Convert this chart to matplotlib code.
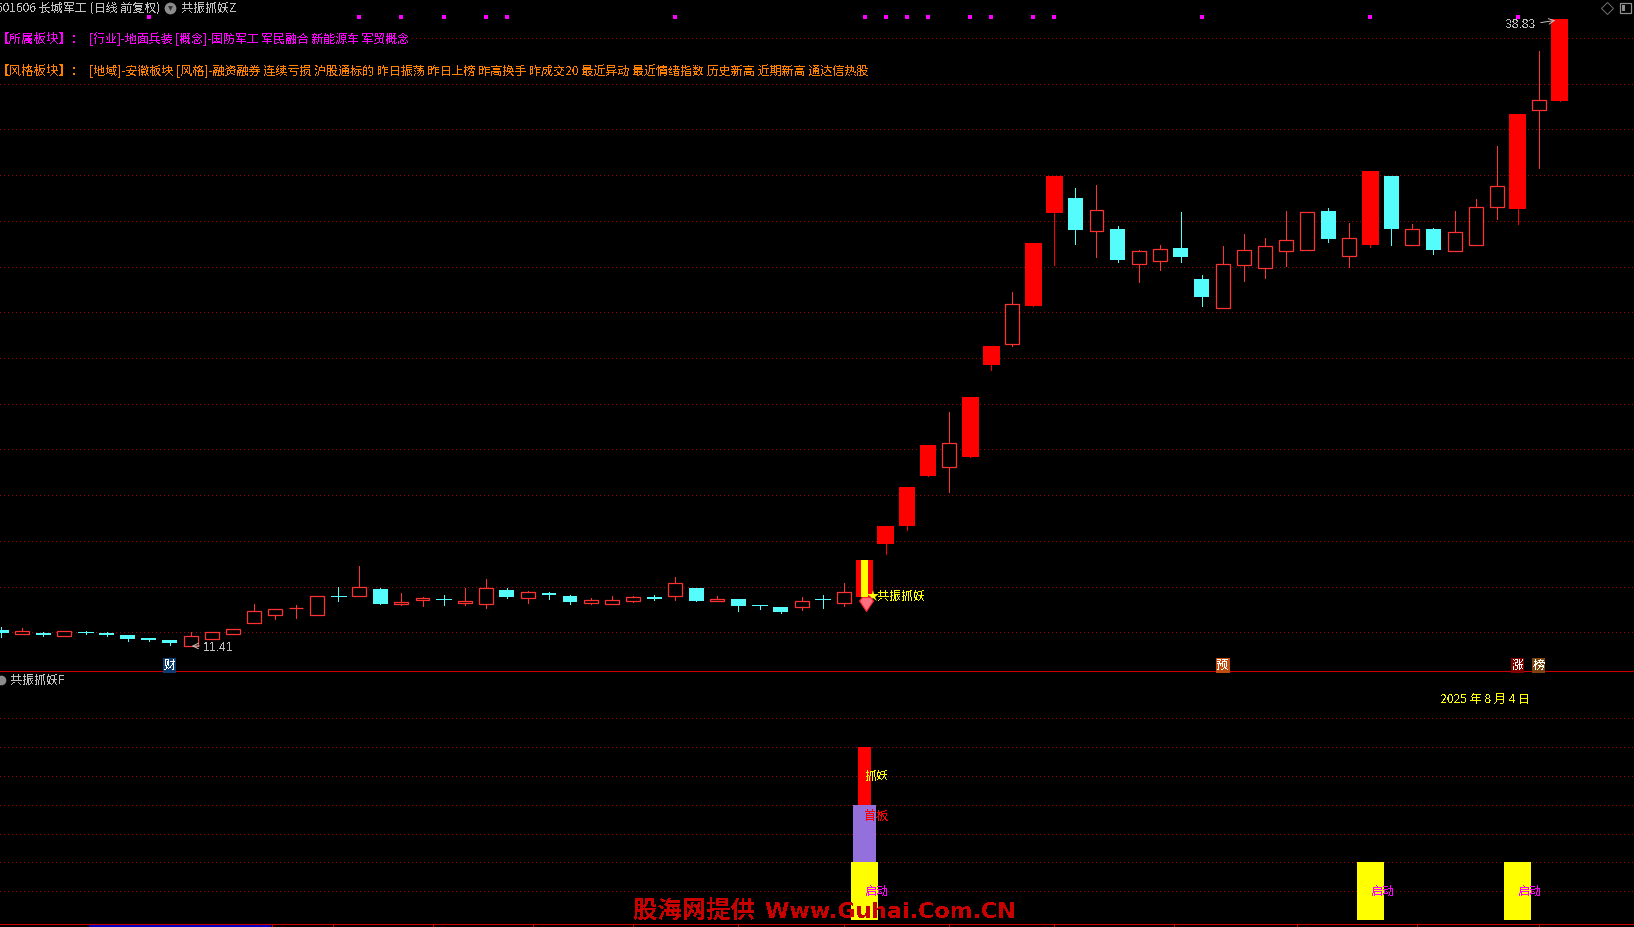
#!/usr/bin/python3
import matplotlib
matplotlib.use("Agg")
import matplotlib.pyplot as plt
from matplotlib.lines import Line2D
from matplotlib.patches import Rectangle

plt.rcParams['font.family'] = ['Noto Sans CJK SC', 'DejaVu Sans']
plt.rcParams['text.antialiased'] = False

W, H = 1634, 927

# daily candles, 75 days
opens = [12.11, 11.95, 11.98, 11.86, 12.02, 11.98, 11.89, 11.76, 11.67, 11.42,
         11.73, 11.95, 12.43, 12.74, 13.05, 12.78, 13.59, 13.57, 13.90, 13.26,
         13.43, 13.46, 13.30, 13.22, 13.86, 13.51, 13.73, 13.60, 13.30, 13.26,
         13.38, 13.55, 13.61, 13.95, 13.38, 13.47, 13.20, 13.12, 13.13, 13.46,
         13.30, 13.55, 15.87, 16.66, 18.84, 19.25, 19.67, 23.70, 24.63, 26.28,
         30.35, 31.00, 29.57, 29.65, 28.13, 28.26, 28.81, 27.46, 26.20, 28.08,
         27.95, 28.70, 28.74, 30.43, 28.48, 28.95, 31.96, 28.96, 29.65, 28.70,
         28.96, 30.62, 30.52, 34.86, 35.24]
closes = [11.98, 12.05, 11.89, 12.05, 11.98, 11.89, 11.72, 11.67, 11.54, 11.83,
          12.01, 12.14, 12.93, 13.01, 13.07, 13.58, 13.58, 13.98, 13.26, 13.33,
          13.51, 13.45, 13.38, 13.93, 13.55, 13.76, 13.64, 13.33, 13.41, 13.41,
          13.54, 13.47, 14.15, 13.38, 13.47, 13.16, 13.16, 12.90, 13.36, 13.45,
          13.76, 15.17, 16.66, 18.36, 20.20, 20.27, 22.30, 24.53, 26.37, 29.03,
          31.96, 29.60, 30.46, 28.29, 28.67, 28.76, 28.42, 26.67, 28.10, 28.71,
          28.89, 29.15, 30.38, 29.21, 29.24, 32.18, 29.65, 29.63, 28.73, 29.50,
          30.59, 31.51, 34.67, 35.27, 38.83]
highs = [12.24, 12.20, 12.02, 12.05, 12.07, 12.02, 11.89, 11.76, 11.67, 12.01,
         12.01, 12.14, 13.25, 13.01, 13.19, 13.58, 13.99, 14.91, 13.95, 13.73,
         13.55, 13.64, 13.95, 14.34, 13.95, 13.80, 13.77, 13.64, 13.51, 13.60,
         13.60, 13.64, 14.43, 13.95, 13.60, 13.47, 13.20, 13.12, 13.55, 13.64,
         14.16, 15.17, 16.66, 18.36, 20.20, 21.64, 22.30, 24.53, 26.89, 29.03,
         31.96, 31.44, 31.57, 29.78, 28.73, 28.95, 30.39, 27.63, 28.90, 29.43,
         29.25, 30.43, 30.38, 30.56, 29.91, 32.18, 31.96, 29.86, 29.69, 30.43,
         30.96, 33.28, 34.67, 37.43, 38.83]
lows = [11.80, 11.95, 11.85, 11.86, 11.95, 11.85, 11.63, 11.64, 11.45, 11.41,
        11.73, 11.95, 12.39, 12.59, 12.63, 12.78, 13.38, 13.57, 13.26, 13.20,
        13.16, 13.20, 13.20, 13.07, 13.51, 13.29, 13.47, 13.25, 13.25, 13.26,
        13.33, 13.42, 13.42, 13.38, 13.38, 12.94, 13.03, 12.85, 12.98, 13.07,
        13.16, 13.55, 15.43, 16.48, 18.84, 18.14, 19.67, 23.48, 24.53, 26.28,
        28.07, 28.99, 28.42, 28.20, 27.33, 27.85, 28.20, 26.28, 26.20, 27.37,
        27.50, 28.03, 28.74, 29.08, 27.97, 28.86, 28.95, 28.96, 28.55, 28.70,
        28.96, 30.08, 29.86, 32.31, 35.24]

limit_up_days = [41, 42, 43, 44, 46, 47, 49, 50, 65, 72, 74]
top_marker_days = [7, 17, 19, 21, 23, 24, 32, 41, 42, 43, 44, 46, 47, 49, 50, 57, 65, 72]
price_grid = [12, 14, 16, 18, 20, 22, 24, 26, 28, 30, 32, 34, 36, 38]

# lower panel
signal_days = [41, 65, 72]
start_value = [1, 1, 1]
first_board_value = 1
catch_value = 1
lower_grid = [0.5, 1, 1.5, 2, 2.5, 3, 3.5]
time_ticks = [12.85, 15.75, 20.5, 25.25, 30, 35, 40, 45, 50, 55.7, 61.5, 67.2, 73]

sector_label = "【所属板块】："
sector_text = "[行业]-地面兵装 [概念]-国防军工 军民融合 新能源车 军贸概念"
style_label = "【风格板块】："
style_text = ("[地域]-安徽板块 [风格]-融资融券 连续亏损 沪股通标的 昨日振荡 昨日上榜 "
              "昨高换手 昨成交20 最近异动 最近情绪指数 历史新高 近期新高 通达信热股")
event_days = [8, 58, 72, 73]
event_labels = ["财", "预", "涨", "榜"]
event_colors = ["#0c3c70", "#c04c10", "#800000", "#7c4410"]

RED = "#ff3232"
CYAN = "#54fcfc"
GRID = "#a00000"
LINE = "#c80000"
GREY = "#c0c0c0"


def fx(x):
    return x / W


def fy(y):
    return 1 - y / H


def put(x, y, s, color, size=8.65, **kw):
    kw.setdefault('va', 'center')
    return fig.text(fx(x), fy(y), s, color=color, fontsize=size, **kw)


def icon(x, y, **kw):
    fig.add_artist(Line2D([fx(x)], [fy(y)], ls='', transform=fig.transFigure, **kw))


def wick(i, lo, hi, col):
    ax.vlines(i, lo, hi, colors=col, linewidth=0.72, antialiased=False, capstyle='butt', zorder=2)


fig = plt.figure(figsize=(W / 100, H / 100), dpi=100, facecolor='black')
ax = fig.add_axes([0, fy(671), 1, 671 / H], facecolor='black')
low = fig.add_axes([0, fy(924), 1, 253 / H])
low.patch.set_visible(False)

xlim = (-0.06, 77.52)
for a in (ax, low):
    a.set_xlim(*xlim)
    a.set_yticks([])
    for s in a.spines.values():
        s.set_visible(False)
    a.spines['bottom'].set_visible(True)
    a.spines['bottom'].set_color(LINE)
    a.spines['bottom'].set_linewidth(0.8)
ax.set_xticks([])
ax.set_ylim(10.31, 39.66)
low.set_ylim(-0.07, 4.32)
low.set_xticks(time_ticks)
low.set_xticklabels([])
low.tick_params(axis='x', length=2.2, width=0.72, color=LINE)

dots = (0, (1, 3))
ax.hlines(price_grid, *xlim, colors=GRID, linewidth=0.72, linestyles=dots, capstyle='butt',
          antialiased=False, zorder=1)
low.hlines(lower_grid, *xlim, colors=GRID, linewidth=0.72, linestyles=dots, capstyle='butt',
           antialiased=False, zorder=1)

# candles
for i in range(len(opens)):
    o, c, h, l = opens[i], closes[i], highs[i], lows[i]
    top, bot = max(o, c), min(o, c)
    if i in limit_up_days:
        wick(i, l, h, "#ff0000")
        ax.bar(i, top - bot, bottom=bot, width=0.8, color="#ff0000", linewidth=0, zorder=3)
    elif c >= o:
        wick(i, top, h, RED)
        wick(i, l, bot, RED)
        ax.bar(i, top - bot, bottom=bot, width=0.66, facecolor='black',
               edgecolor=RED, linewidth=0.9, zorder=3)
    else:
        wick(i, l, h, CYAN)
        if top - bot < 0.05:
            ax.hlines(top, i - 0.35, i + 0.35, colors=CYAN, linewidth=0.72, antialiased=False,
                      capstyle='butt', zorder=3)
        else:
            ax.bar(i, top - bot, bottom=bot, width=0.7, color=CYAN, linewidth=0, zorder=3)

# the resonance candle has a yellow core
ax.bar(signal_days[0], closes[41] - opens[41], bottom=opens[41], width=0.33,
       color="#ffff00", linewidth=0, zorder=4)
ax.plot([41.4], [13.60], marker='*', ms=9, color="#ffff00", mew=0, zorder=5)
gem = [(-1, 0.5), (-0.6, 1), (0.6, 1), (1, 0.5), (0, -1), (-1, 0.5)]
ax.plot([41.05], [13.22], marker=gem, ms=10, mfc="#ff7080", mec="#ff2030", mew=0.8, zorder=5)

# little magenta squares along the top
ax.plot(top_marker_days, [38.9] * len(top_marker_days), ls='', marker='s', ms=2.4,
        color="#ff00ff", mew=0, zorder=5)

# lower panel stacked signal
low.bar(signal_days, start_value, width=1.28, color="#ffff00", linewidth=0, zorder=3)
low.bar(41, first_board_value, bottom=1, width=1.09, color="#9370db", linewidth=0, zorder=3)
low.bar(41, catch_value, bottom=2, width=0.62, color="#ff0000", linewidth=0, zorder=3)
for d in signal_days:
    low.text(d, 0.5, "启动", color="#ff00ff", fontsize=8.7, va='center', ha='left', zorder=6)
low.text(41, 1.79, "首板", color="#ff0000", fontsize=8.7, va='center', ha='left', zorder=6)
low.text(41, 2.49, "抓妖", color="#ffff00", fontsize=8.7, va='center', ha='left', zorder=6)

# event tags above the divider
for d, s, col in zip(event_days, event_labels, event_colors):
    ax.text(d, 10.55, s, color='white', fontsize=8.7, ha='center', va='center', zorder=6,
            bbox=dict(boxstyle='square,pad=0.05', fc=col, ec='none'))

# header and annotation text
black = dict(fc='black', ec='none', pad=1)
put(-4, 8, "601606 长城军工 (日线 前复权)", GREY)
icon(170, 8, marker='o', ms=8.5, mfc="#8c8c8c", mew=0)
icon(170, 8, marker='v', ms=3.5, mfc="#303030", mew=0)
put(181, 8, "共振抓妖Z", GREY)
put(-3, 39, sector_label, "#ff00ff", size=9, bbox=black)
put(89, 39, sector_text, "#ff00ff", size=8.6, bbox=black)
put(-3, 71, style_label, "#ff8000", size=9, bbox=black)
put(89, 71, style_text, "#ff8000", bbox=black)
put(877, 596, "共振抓妖", "#ffff00")
put(203, 648, "11.41", GREY, family='Liberation Sans')
put(1506, 25, "38.83", GREY, family='Liberation Sans')
put(10, 680, "共振抓妖F", GREY)
icon(1, 680, marker='o', ms=7, mfc="#8c8c8c", mew=0)
put(1440, 699, "2025 年 8 月 4 日", "#ffff00", size=8.7)

ax.annotate("", xy=(fx(189), fy(646)), xytext=(fx(202), fy(646)), xycoords='figure fraction',
            textcoords='figure fraction', arrowprops=dict(arrowstyle='->', color=GREY, lw=0.7))
ax.annotate("", xy=(fx(1558), fy(20)), xytext=(fx(1538), fy(23)), xycoords='figure fraction',
            textcoords='figure fraction', arrowprops=dict(arrowstyle='->', color=GREY, lw=0.7))

# window icons, top right
icon(1607, 8, marker='D', ms=6.5, mfc='none', mec="#707070", mew=0.7)
fig.add_artist(Rectangle((fx(1620), fy(13)), 11 / W, 10 / H, fc='none', ec="#909090", lw=0.9,
                         transform=fig.transFigure))
fig.add_artist(Rectangle((fx(1622), fy(11)), 3 / W, 6 / H, fc="#909090", ec='none',
                         transform=fig.transFigure))

# scrollbar strip at the very bottom
fig.add_artist(Rectangle((fx(89), 0), 182 / W, 2 / H, fc="#0000c0", ec='none',
                         transform=fig.transFigure))

# watermark
put(633, 912, "股海网提供", "#c80000", size=17.6, fontweight='bold', zorder=20)
put(765, 912, "Www.Guhai.Com.CN", "#c80000", size=15.9, fontweight='bold',
    family='DejaVu Sans', zorder=20)

fig.savefig("out.png", dpi=100, facecolor='black')
